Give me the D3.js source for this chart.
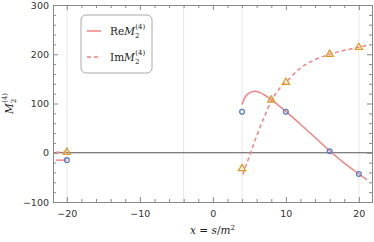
<!DOCTYPE html>
<html>
<head>
<meta charset="utf-8">
<script src="https://cdn.jsdelivr.net/npm/d3@7"></script>
<style>
  body { margin: 0; background: #fff; }
  text { font-family: "DejaVu Sans", sans-serif; }
</style>
</head>
<body>
<div id="chart"></div>
<script>
// sample points
const reX = [-20, 4, 10, 16, 20];
const reY = [-15, 83, 83, 3, -43];
const imX = [-20, 4, 8, 10, 16, 20];
const imY = [1, -32, 107, 143, 200, 214];

// curves
const reCurveX = [4, 4.3, 4.7, 5.2, 5.8, 6.5, 7.2, 8, 9, 10, 12, 14, 16, 18, 20, 21.1];
const reCurveY = [98, 110, 118, 123, 125, 122, 116, 108, 96, 84, 58, 31, 4, -21, -43, -55];
const imCurveX = [4.1, 5, 6, 7, 8, 9, 10, 12, 14, 16, 18, 20, 21.3];
const imCurveY = [-44, -7, 34, 71, 105, 128, 143, 172, 189, 200, 208, 214, 219];
const reStubX = [-21.5, -20];
const reStubY = [-15, -15];
const imStubX = [-21.5, -20];
const imStubY = [1, 1];

const xTicks = [-20, -10, 0, 10, 20];
const yTicks = [-100, 0, 100, 200, 300];
const gridX = [-20, -4, 4, 20];

const W = 374, H = 242;
const margin = { top: 5, right: 2, bottom: 40, left: 53 };
const width = W - margin.left - margin.right;
const height = H - margin.top - margin.bottom;

const red = "#f48282", blue = "#5b7fc4", orange = "#e19a27";

const xScale = d3.scaleLinear().domain([-21.9, 21.8]).range([0, width]);
const yScale = d3.scaleLinear().domain([-100, 300]).range([height, 0]);

const svg = d3.select("#chart").append("svg")
  .attr("width", W).attr("height", H)
  .append("g")
  .attr("transform", `translate(${margin.left}, ${margin.top})`);

// light vertical grid
svg.append("g").selectAll("line").data(gridX).join("line")
  .attr("x1", d => xScale(d)).attr("x2", d => xScale(d))
  .attr("y1", 0).attr("y2", height)
  .attr("stroke", "#e8e8e8").attr("stroke-width", 1);

// zero line
svg.append("line")
  .attr("x1", 0).attr("x2", width)
  .attr("y1", yScale(0)).attr("y2", yScale(0))
  .attr("stroke", "#555").attr("stroke-width", 1);

// frame axes with inward ticks
const minorX = d3.range(-20, 22, 2).filter(v => !xTicks.includes(v));
const minorY = d3.range(-80, 300, 20).filter(v => !yTicks.includes(v));

const styleAxis = g => {
  g.select(".domain").attr("stroke", "#888");
  g.selectAll(".tick line").attr("stroke", "#888");
  g.selectAll("text").attr("fill", "#333").style("font-size", "9.5px");
};

svg.append("g").attr("transform", `translate(0, ${height})`)
  .call(d3.axisBottom(xScale).tickValues(xTicks).tickSizeInner(-5).tickSizeOuter(0)
    .tickPadding(8).tickFormat(d => d < 0 ? "\u2212" + Math.abs(d) : d))
  .call(styleAxis);
svg.append("g").attr("transform", `translate(0, ${height})`)
  .call(d3.axisBottom(xScale).tickValues(minorX).tickSize(-3).tickFormat(""))
  .call(styleAxis);
svg.append("g")
  .call(d3.axisTop(xScale).tickValues(xTicks).tickSizeInner(-5).tickSizeOuter(0).tickFormat(""))
  .call(styleAxis);
svg.append("g")
  .call(d3.axisTop(xScale).tickValues(minorX).tickSize(-3).tickFormat(""))
  .call(styleAxis);

svg.append("g")
  .call(d3.axisLeft(yScale).tickValues(yTicks).tickSizeInner(-5).tickSizeOuter(0)
    .tickPadding(4).tickFormat(d => d < 0 ? "\u2212" + Math.abs(d) : d))
  .call(styleAxis);
svg.append("g")
  .call(d3.axisLeft(yScale).tickValues(minorY).tickSize(-3).tickFormat(""))
  .call(styleAxis);
svg.append("g").attr("transform", `translate(${width}, 0)`)
  .call(d3.axisRight(yScale).tickValues(yTicks).tickSizeInner(-5).tickSizeOuter(0).tickFormat(""))
  .call(styleAxis);
svg.append("g").attr("transform", `translate(${width}, 0)`)
  .call(d3.axisRight(yScale).tickValues(minorY).tickSize(-3).tickFormat(""))
  .call(styleAxis);

// curves
const line = d3.line()
  .x(d => xScale(d[0]))
  .y(d => yScale(d[1]))
  .curve(d3.curveMonotoneX);

const zip = (xs, ys) => xs.map((x, i) => [x, ys[i]]);

svg.append("path").datum(zip(reCurveX, reCurveY))
  .attr("fill", "none").attr("stroke", red).attr("stroke-width", 1.5)
  .attr("d", d3.line().x(d => xScale(d[0])).y(d => yScale(d[1])).curve(d3.curveCatmullRom));
svg.append("path").datum(zip(imCurveX, imCurveY))
  .attr("fill", "none").attr("stroke", red).attr("stroke-width", 1.5)
  .attr("stroke-dasharray", "4,3")
  .attr("d", line);
svg.append("path").datum(zip(reStubX, reStubY))
  .attr("fill", "none").attr("stroke", red).attr("stroke-width", 1.5)
  .attr("d", line);
svg.append("path").datum(zip(imStubX, imStubY))
  .attr("fill", "none").attr("stroke", red).attr("stroke-width", 1.5)
  .attr("stroke-dasharray", "4,3")
  .attr("d", line);

// points
svg.append("g").selectAll("circle").data(zip(reX, reY)).join("circle")
  .attr("cx", d => xScale(d[0])).attr("cy", d => yScale(d[1]))
  .attr("r", 2.4)
  .attr("fill", "none").attr("stroke", blue).attr("stroke-width", 1.3);

const tri = d3.symbol().type(d3.symbolTriangle).size(22);
svg.append("g").selectAll("path").data(zip(imX, imY)).join("path")
  .attr("transform", d => `translate(${xScale(d[0])}, ${yScale(d[1])})`)
  .attr("d", tri)
  .attr("fill", "none").attr("stroke", orange).attr("stroke-width", 1.3);

// legend
const lg = svg.append("g").attr("transform", `translate(${81 - margin.left}, ${15 - margin.top})`);
lg.append("rect")
  .attr("width", 71).attr("height", 58).attr("rx", 5)
  .attr("fill", "#fff").attr("stroke", "#aaa").attr("stroke-width", 1);

const entries = [
  { re: "Re", dash: null },
  { re: "Im", dash: "4,3" }
];
entries.forEach((e, i) => {
  const y = 16 + i * 26;
  lg.append("line")
    .attr("x1", 6).attr("x2", 20).attr("y1", y).attr("y2", y)
    .attr("stroke", red).attr("stroke-width", 1.5)
    .attr("stroke-dasharray", e.dash);
  const t = lg.append("text").attr("x", 29).attr("y", y + 4)
    .style("font-family", "'DejaVu Serif', serif").style("font-size", "10.5px").attr("fill", "#222");
  t.append("tspan").text(e.re);
  t.append("tspan").style("font-style", "italic").text("M");
  t.append("tspan").attr("dy", 3).style("font-size", "7px").text("2");
  t.append("tspan").attr("dx", -4).attr("dy", -9).style("font-size", "7px").text("(4)");
});

// axis labels
const yl = svg.append("text")
  .attr("transform", `translate(${13 - margin.left}, ${height / 2}) rotate(-90)`)
  .attr("text-anchor", "middle")
  .style("font-family", "'DejaVu Serif', serif").style("font-size", "10.5px").attr("fill", "#222");
yl.append("tspan").style("font-style", "italic").text("M");
yl.append("tspan").attr("dy", 3).style("font-size", "7px").text("2");
yl.append("tspan").attr("dx", -4).attr("dy", -9).style("font-size", "7px").text("(4)");

const xl = svg.append("text")
  .attr("x", width / 2).attr("y", height + 32)
  .attr("text-anchor", "middle")
  .style("font-family", "'DejaVu Serif', serif").style("font-size", "10.5px").attr("fill", "#222");
xl.append("tspan").style("font-style", "italic").text("x");
xl.append("tspan").text(" = ");
xl.append("tspan").style("font-style", "italic").text("s");
xl.append("tspan").text("/");
xl.append("tspan").style("font-style", "italic").text("m");
xl.append("tspan").attr("dy", -4).style("font-size", "7px").text("2");
</script>
</body>
</html>
